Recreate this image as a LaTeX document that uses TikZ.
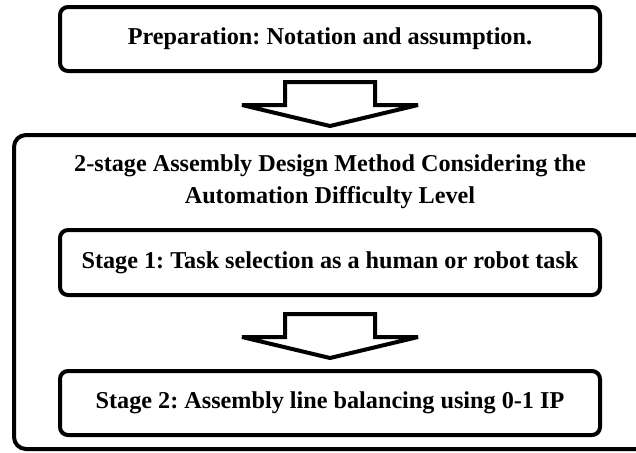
\documentclass[tikz,border=0pt]{standalone}
\usepackage{fontspec}
\setmainfont{Liberation Serif}
\usetikzlibrary{positioning}

% block arrow pointing down, hung below a coordinate
\newcommand{\downblockarrow}[1]{%
  \draw [bigarrow] (#1) ++(-45,0) -- ++(0,23) -- ++(-43,0) -- ++(88,21)
    -- ++(88,-21) -- ++(-43,0) -- ++(0,-23) -- cycle;}

\begin{document}
\frenchspacing
\begin{tikzpicture}[x=0.5pt, y=-0.5pt, node distance=4.5pt,
    font=\bfseries\fontsize{12.1}{16}\selectfont]
\tikzstyle{block} = [rectangle, draw, line width=2pt, rounded corners=4pt,
    minimum width=270pt, minimum height=32pt, text centered]
\tikzstyle{frame} = [draw, line width=2pt, rounded corners=6pt]
\tikzstyle{bigarrow} = [draw, line width=2pt, fill=white, miter limit=4]
\useasboundingbox (0,0) rectangle (636,452);

 \node [block] (prep) at (330,39) {Preparation: Notation and assumption.};
 \coordinate [below=of prep] (arr1);
 \downblockarrow{arr1}

 \path [frame] (14,135) rectangle (690,449);
 \node [align=center] (method) at (330,182)
   {2-stage Assembly Design Method Considering the\\ Automation Difficulty Level};

 \node [block, minimum height=32.5pt] (stage1) at (330,262.5)
   {Stage 1: Task selection as a human or robot task};
 \coordinate [below=8.5pt of stage1] (arr2);
 \downblockarrow{arr2}

 \node [block] (stage2) at (330,403) {Stage 2: Assembly line balancing using 0-1 IP};
\end{tikzpicture}
\end{document}
